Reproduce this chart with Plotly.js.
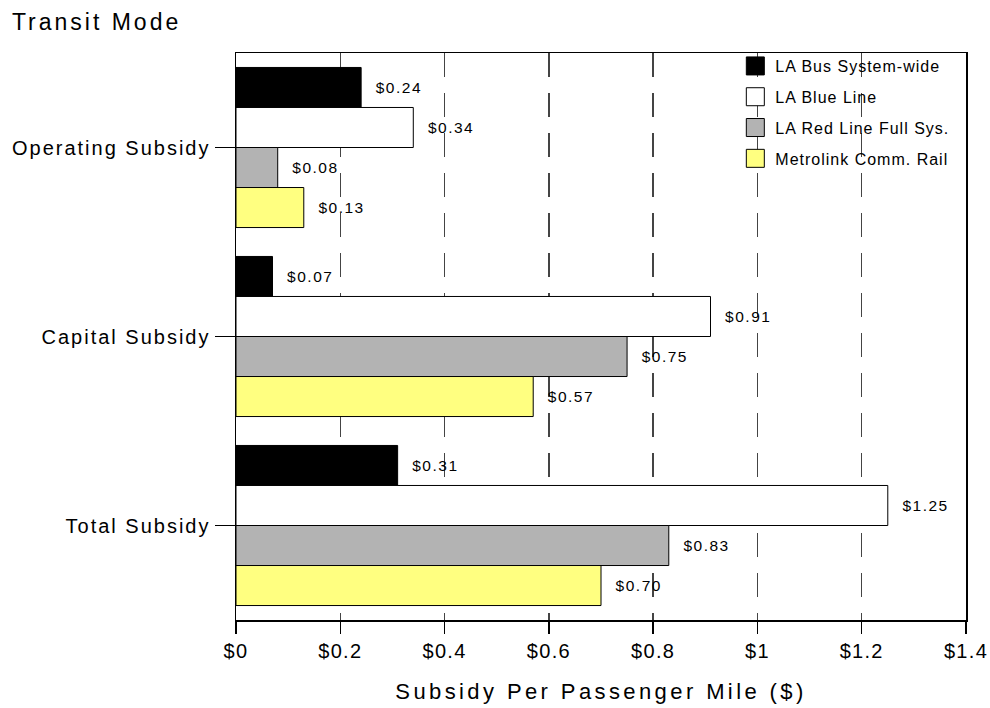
<!DOCTYPE html>
<html>
<head>
<meta charset="utf-8">
<script src="https://cdn.plot.ly/plotly-3.0.1.min.js"></script>
<style>
body { margin: 0; background: #fff; }
.gtitle { letter-spacing: 3px; }
.xtitle { letter-spacing: 3.4px; }
.ytick text { letter-spacing: 2px; }
.xtick text { letter-spacing: 1.3px; }
.legendtext { letter-spacing: 1px; }
.bartext { letter-spacing: 1.5px; }
.legendpoints path { d: path("M9,9H-9V-9H9Z"); }
</style>
</head>
<body>
<div id="chart" style="width:990px;height:708px;"></div>
<script>
// ---- data ----
const categories = ["Operating Subsidy", "Capital Subsidy", "Total Subsidy"];
const seriesNames = ["LA Bus System-wide", "LA Blue Line", "LA Red Line Full Sys.", "Metrolink Comm. Rail"];
const busValues = [0.24, 0.07, 0.31];
const blueLineValues = [0.34, 0.91, 1.25];
const redLineValues = [0.08, 0.75, 0.83];
const metrolinkValues = [0.13, 0.57, 0.70];
const xTickValues = [0, 0.2, 0.4, 0.6, 0.8, 1.0, 1.2, 1.4];
const xTickLabels = ["$0", "$0.2", "$0.4", "$0.6", "$0.8", "$1", "$1.2", "$1.4"];

// ---- styles ----
const seriesValues = [busValues, blueLineValues, redLineValues, metrolinkValues];
const seriesColors = ["#000000", "#ffffff", "#b3b3b3", "#ffff80"];
const FONT = '"Liberation Sans", Arial, Helvetica, sans-serif';

const traces = seriesNames.map((name, i) => ({
  type: "bar",
  orientation: "h",
  name: name,
  legendgroup: "g" + i,
  y: categories,
  x: seriesValues[i],
  text: seriesValues[i].map(v => "\u00a0\u00a0$" + v.toFixed(2)),
  textposition: "outside",
  constraintext: "none",
  cliponaxis: false,
  textfont: { family: FONT, size: 15.5, color: "#000" },
  marker: { color: seriesColors[i], line: { color: "#000", width: 1 } },
  hoverinfo: "x+name"
}));

const layout = {
  width: 990,
  height: 708,
  paper_bgcolor: "#fff",
  plot_bgcolor: "#fff",
  margin: { l: 236, r: 24, t: 53, b: 88 },
  font: { family: FONT, color: "#000" },
  barmode: "group",
  bargap: 0.153,
  bargroupgap: 0,
  showlegend: true,
  title: {
    text: "Transit Mode",
    font: { family: FONT, size: 23, color: "#000" },
    x: 0.012, xref: "container", xanchor: "left",
    y: 0.969, yref: "container", yanchor: "middle"
  },
  legend: {
    x: 0.684, xanchor: "left",
    y: 1.007, yanchor: "top",
    bgcolor: "rgba(0,0,0,0)",
    borderwidth: 0,
    traceorder: "grouped",
    tracegroupgap: 7,
    font: { family: FONT, size: 16, color: "#000" }
  },
  xaxis: {
    range: [0, 1.4],
    tickmode: "array",
    tickvals: xTickValues,
    ticktext: xTickLabels,
    ticks: "outside",
    ticklen: 12,
    tickwidth: 1.5,
    tickcolor: "#000",
    showline: true,
    linecolor: "#000",
    linewidth: 1.5,
    mirror: true,
    showgrid: true,
    gridcolor: "#444",
    gridwidth: 1.5,
    griddash: "24px,16px",
    zeroline: false,
    tickfont: { family: FONT, size: 20, color: "#000" },
    title: { text: "Subsidy Per Passenger Mile ($)", font: { family: FONT, size: 22, color: "#000" }, standoff: 23 }
  },
  yaxis: {
    type: "category",
    autorange: "reversed",
    ticks: "outside",
    ticklen: 20,
    tickwidth: 1.5,
    tickcolor: "#000",
    showline: true,
    linecolor: "#000",
    linewidth: 1.5,
    mirror: true,
    showgrid: false,
    zeroline: false,
    tickfont: { family: FONT, size: 20, color: "#000" }
  }
};

Plotly.newPlot("chart", traces, layout, { displayModeBar: false, staticPlot: true });
</script>
</body>
</html>
